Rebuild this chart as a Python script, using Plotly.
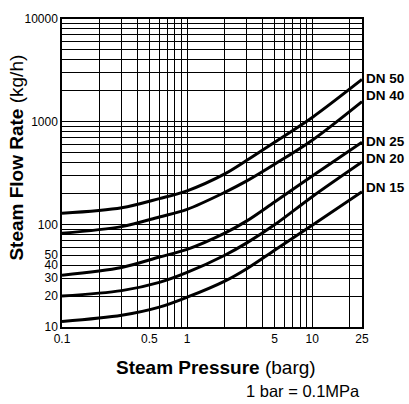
import math
import plotly.graph_objects as go

pressure = [0.1, 0.3, 0.6, 1, 2, 3, 5, 10, 25]
dn50 = [128, 145, 178, 212, 310, 420, 630, 1100, 2580]
dn40 = [82, 95, 118, 140, 205, 265, 385, 660, 1570]
dn25 = [32, 38, 48, 57, 82, 108, 165, 295, 632]
dn20 = [20, 22.6, 27.2, 34, 50, 66, 99, 186, 405]
dn15 = [11.3, 13, 15.6, 19.5, 28, 37, 56, 98, 208]
series_names = ["DN 50", "DN 40", "DN 25", "DN 20", "DN 15"]
series_vals = [dn50, dn40, dn25, dn20, dn15]
label_shift = [1, 6, 1, 3, 4]

x_grid = [0.1, 0.2, 0.3, 0.4, 0.5, 0.6, 0.7, 0.8, 0.9, 1, 2, 3, 4, 5, 6, 7, 8, 9, 10, 20, 25]
x_labels = {0.1: "0.1", 0.5: "0.5", 1: "1", 5: "5", 10: "10", 25: "25"}
y_grid = [10, 20, 30, 40, 50, 60, 70, 80, 90,
          100, 200, 300, 400, 500, 600, 700, 800, 900,
          1000, 2000, 3000, 4000, 5000, 6000, 7000, 8000, 9000, 10000]
y_labels = {10: "10", 20: "20", 30: "30", 40: "40", 50: "50", 100: "100", 1000: "1000", 10000: "10000"}

FONT = "Liberation Sans, Arial, Helvetica, sans-serif"

fig = go.Figure()
for name, vals in zip(series_names, series_vals):
    fig.add_trace(go.Scatter(x=pressure, y=vals, mode="lines", name=name,
                             line=dict(color="black", width=3, shape="spline", smoothing=0.9),
                             showlegend=False, hoverinfo="skip"))

for name, vals, sh in zip(series_names, series_vals, label_shift):
    fig.add_annotation(x=1, xref="paper", y=math.log10(vals[-1]), yref="y",
                       text="<b>" + name + "</b>",
                       showarrow=False, xanchor="left", yanchor="middle", xshift=2, yshift=sh,
                       font=dict(family=FONT, size=13.5, color="black"))

fig.update_xaxes(type="log", range=[-1, math.log10(25)], tickmode="array",
                 tickvals=x_grid, ticktext=[x_labels.get(v, "") for v in x_grid],
                 showgrid=True, gridcolor="black", gridwidth=1,
                 showline=True, linecolor="black", linewidth=1.5, mirror=True,
                 ticks="", tickfont=dict(family=FONT, size=12, color="black"), zeroline=False)
fig.update_yaxes(type="log", range=[1, 4], tickmode="array",
                 tickvals=y_grid, ticktext=[y_labels.get(v, "") for v in y_grid],
                 showgrid=True, gridcolor="black", gridwidth=1,
                 showline=True, linecolor="black", linewidth=1.5, mirror=True,
                 ticks="", tickfont=dict(family=FONT, size=12, color="black"), zeroline=False)

fig.add_annotation(x=-0.15, y=0.55, xref="paper", yref="paper", textangle=-90,
                   xanchor="center", yanchor="middle",
                   text="<b>Steam Flow Rate</b> (kg/h)", showarrow=False,
                   font=dict(family=FONT, size=19, color="black"))
fig.add_annotation(x=0.513, y=-0.13, xref="paper", yref="paper",
                   xanchor="center", yanchor="middle",
                   text="<b>Steam Pressure</b> (barg)", showarrow=False,
                   font=dict(family=FONT, size=19, color="black"))
fig.add_annotation(x=1, y=-0.208, xref="paper", yref="paper", xanchor="right", yanchor="middle",
                   text="1 bar = 0.1MPa", showarrow=False,
                   font=dict(family=FONT, size=16.5, color="black"))

fig.update_layout(width=409, height=404, margin=dict(l=62, r=47, t=16, b=77),
                  paper_bgcolor="white", plot_bgcolor="white")

fig.write_html("out.html")
